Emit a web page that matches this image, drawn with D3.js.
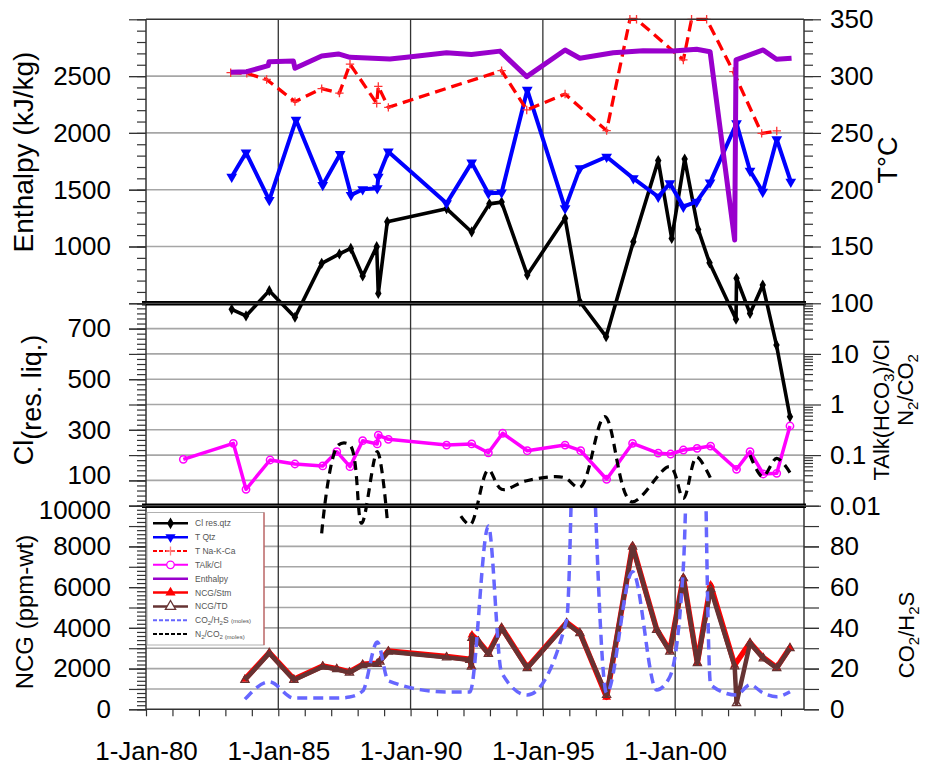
<!DOCTYPE html>
<html><head><meta charset="utf-8">
<script src="https://cdn.jsdelivr.net/npm/d3@7"></script>
<style>body{margin:0;background:#fff}svg{display:block}text{font-family:Arial,"Liberation Sans",sans-serif}</style>
</head><body><svg id="c" width="925" height="774"></svg>
<script>
// ---------- tick labels ----------
const xTickYears=[1980,1985,1990,1995,2000];
const xTickLabels=["1-Jan-80","1-Jan-85","1-Jan-90","1-Jan-95","1-Jan-00"];
const enthalpyTicks=[1000,1500,2000,2500];
const tempTicks=[100,150,200,250,300,350];
const clTicks=[100,300,500,700];
const ratioTicks=[0.01,0.1,1,10];
const ratioTickLabels=["0.01","0.1","1","10"];
const ncgTicks=[0,2000,4000,6000,8000,10000];
const co2h2sTicks=[0,20,40,60,80];

// ---------- series [decimal year, value] ----------
const enthalpy=[[1983.20,2533],[1983.81,2539],[1984.62,2592],[1984.65,2627],[1985.57,2633],[1985.63,2569],[1986.64,2677],[1987.27,2695],[1987.71,2665],[1989.22,2651],[1989.85,2665],[1991.36,2706],[1992.30,2690],[1993.38,2720],[1994.39,2495],[1995.84,2730],[1996.40,2657],[1997.66,2706],[1998.79,2724],[1999.93,2721],[2000.81,2736],[2001.32,2715],[2002.25,1057],[2002.30,2642],[2003.33,2730],[2003.83,2648],[2004.40,2657]];
const tNaKCa=[[1983.20,303],[1983.81,302.5],[1984.56,297],[1985.63,277.5],[1986.64,289],[1987.31,285],[1987.71,310.6],[1988.72,276],[1988.78,291],[1989.16,272.5],[1993.44,304.8],[1994.39,270.2],[1995.84,284.2],[1997.41,252],[1998.29,350],[1998.54,350],[2000.31,314.2],[2000.62,350],[2001.19,350],[2002.20,304],[2003.27,249.6],[2003.84,251.7]];
const tQtz=[[1983.24,211.4],[1983.78,232.6],[1984.66,190.9],[1985.67,261.4],[1986.68,204.1],[1987.34,231.4],[1987.75,195.3],[1988.19,200.3],[1988.74,201.2],[1988.78,211.4],[1989.16,233.5],[1991.36,188],[1992.31,223.8],[1992.94,196.8],[1993.44,197.4],[1994.41,287.8],[1995.84,183.6],[1996.40,218.8],[1997.41,229],[1998.42,210],[1999.36,193.8],[1999.80,205.6],[2000.31,185],[2000.81,189.4],[2001.32,206.2],[2002.32,258.4],[2002.83,216.7],[2003.31,198.2],[2003.84,244.4],[2004.37,207]];
const clResQtz=[[1983.24,776],[1983.78,750],[1984.66,850],[1985.63,745],[1986.64,958],[1987.31,995],[1987.74,1017],[1988.19,908],[1988.72,1024],[1988.78,839],[1989.12,1122],[1991.36,1174],[1992.31,1082],[1992.98,1193],[1993.44,1200],[1994.41,912],[1995.84,1136],[1996.40,806],[1997.39,668],[1998.42,1043],[1999.36,1364],[1999.87,1056],[2000.36,1370],[2000.87,1092],[2001.30,960],[2002.30,737],[2002.32,899],[2002.83,760],[2003.31,872],[2003.83,635],[2004.34,352]];
const talkCl=[[1981.41,0.0826],[1983.30,0.171],[1983.78,0.0211],[1984.69,0.080],[1985.63,0.0667],[1986.68,0.061],[1987.21,0.117],[1987.71,0.059],[1988.19,0.193],[1988.74,0.166],[1988.78,0.249],[1989.16,0.205],[1991.36,0.158],[1992.31,0.166],[1992.94,0.111],[1993.48,0.270],[1994.41,0.122],[1995.84,0.158],[1996.43,0.122],[1997.41,0.0333],[1998.39,0.171],[1999.36,0.109],[1999.83,0.105],[2000.31,0.126],[2000.83,0.136],[2001.34,0.151],[2002.32,0.0524],[2002.83,0.117],[2003.33,0.0423],[2003.84,0.0436],[2004.34,0.376]];
const n2co2=[[1986.64,0.00285],[1987.27,0.158],[1987.71,0.158],[1988.15,0.0045],[1988.74,0.117],[1989.12,0.0052],[1990.5,null],[1991.90,0.0062],[1992.25,0.0042],[1992.94,0.0508],[1993.44,0.0211],[1994.39,0.0312],[1995.77,0.0364],[1996.40,0.0231],[1997.34,0.574],[1998.35,0.012],[1999.80,0.059],[2000.31,0.014],[2000.81,0.0906],[2001.34,0.0348],[2002.0,null],[2002.83,0.1],[2003.31,0.0374],[2003.84,0.0865],[2004.34,0.0449]];
const ncgStm=[[1983.74,1480],[1984.66,2790],[1985.59,1480],[1986.68,2130],[1987.21,2000],[1987.69,1840],[1988.19,2210],[1988.74,2260],[1988.84,2380],[1989.16,2870],[1991.36,2590],[1992.24,2460],[1992.30,2130],[1992.32,3649],[1992.56,3360],[1992.94,2760],[1993.44,4020],[1994.41,2050],[1995.90,4260],[1996.40,3770],[1997.41,590],[1998.39,8030],[1999.30,3930],[1999.80,2870],[2000.31,6470],[2000.84,2300],[2001.34,6105],[2002.25,2176],[2002.83,3280],[2003.33,2540],[2003.84,2050],[2004.34,3030]];
const ncgTD=[[1983.74,1439],[1984.66,2750],[1985.59,1439],[1986.68,2092],[1987.21,1965],[1987.69,1798],[1988.19,2176],[1988.74,2225],[1988.84,2338],[1989.16,2830],[1991.36,2550],[1992.24,2421],[1992.30,2092],[1992.32,3500],[1992.56,3320],[1992.94,2716],[1993.44,3978],[1994.41,2014],[1995.90,4224],[1996.40,3733],[1997.41,700],[1998.39,7986],[1999.30,3895],[1999.80,2829],[2000.31,6434],[2000.84,2259],[2001.34,5900],[2002.25,2100],[2002.32,295],[2002.83,3242],[2003.33,2500],[2003.84,2014],[2004.34,2996]];
const co2h2s=[[1983.74,5],[1984.66,13.5],[1985.59,5.5],[1986.68,5.5],[1987.21,5.5],[1987.69,6],[1988.19,9],[1988.74,33],[1989.16,14],[1991.36,8.5],[1992.24,8.5],[1992.94,90],[1993.44,18],[1994.41,7],[1995.90,44],[1996.40,250],[1997.41,8],[1998.39,67.6],[1999.30,9.5],[1999.80,16],[2000.31,70],[2000.84,330],[2001.34,12],[2002.32,7],[2002.83,12],[2003.33,8],[2003.84,6.2],[2004.34,8.6]];

// ---------- layout ----------
const svg=d3.select("#c");
const X0=146,X1=804;
const P1=[19.3,303.3],P2=[303.3,505.7],P3=[505.7,709.3];
const x=d3.scaleLinear().domain([1980,2004.87]).range([X0,X1]);
const yH=d3.scaleLinear().domain([500,3000]).range([P1[1],P1[0]]);
const yT=d3.scaleLinear().domain([100,350]).range([P1[1],P1[0]]);
const yCl=d3.scaleLinear().domain([0,800]).range([P2[1],P2[0]]);
const yR=d3.scaleLog().domain([0.01,100]).range([P2[1],P2[0]]);
const yN=d3.scaleLinear().domain([0,10000]).range([P3[1],P3[0]]);
const yC=d3.scaleLinear().domain([0,100]).range([P3[1],P3[0]]);

svg.append("defs").append("clipPath").attr("id","clip3").append("rect")
  .attr("x",X0).attr("y",P3[0]).attr("width",X1-X0).attr("height",P3[1]-P3[0]);

// ---------- gridlines ----------
const grid=svg.append("g").attr("stroke","#a6a6a6").attr("stroke-width",1.6);
grid.selectAll(".g1").data([1000,1500,2000,2500]).join("line").attr("x1",X0).attr("x2",X1).attr("y1",d=>yH(d)).attr("y2",d=>yH(d));
grid.selectAll(".g2").data(d3.range(100,800,100)).join("line").attr("x1",X0).attr("x2",X1).attr("y1",d=>yCl(d)).attr("y2",d=>yCl(d));
grid.selectAll(".g3").data(d3.range(1000,10000,1000)).join("line").attr("x1",X0).attr("x2",X1).attr("y1",d=>yN(d)).attr("y2",d=>yN(d));
svg.append("g").attr("stroke","#333").attr("stroke-width",1.3).selectAll("line").data(xTickYears.slice(1)).join("line")
  .attr("x1",d=>x(d)).attr("x2",d=>x(d)).attr("y1",P1[0]).attr("y2",P3[1]);

// ---------- helpers ----------
function path(data,sx,sy,color,width,dash,curve){
  const ln=d3.line().defined(d=>d[1]!=null).x(d=>sx(d[0])).y(d=>sy(d[1]));
  if(curve) ln.curve(curve);
  return svg.append("path").datum(data).attr("d",ln).attr("fill","none").attr("stroke",color)
    .attr("stroke-width",width).attr("stroke-linejoin","round").attr("stroke-dasharray",dash||null);
}
function markers(data,sx,sy,type,size,fill,stroke,sw,rot){
  return svg.append("g").selectAll("path").data(data).join("path")
    .attr("d",d3.symbol(type,size)).attr("transform",d=>`translate(${sx(d[0])},${sy(d[1])})${rot?" rotate(180)":""}`)
    .attr("fill",fill).attr("stroke",stroke||"none").attr("stroke-width",sw||0);
}
const plusSym={draw(c,s){const r=Math.sqrt(s)/2;c.moveTo(-r,0);c.lineTo(r,0);c.moveTo(0,-r);c.lineTo(0,r);}};

// ---------- panel 3 ----------
path(ncgStm,x,yN,"#ff0000",5.5);
markers(ncgStm,x,yN,d3.symbolTriangle,34,"#ff0000");
path(ncgTD,x,yN,"#663333",4.5);
markers(ncgTD,x,yN,d3.symbolTriangle,30,"none","#663333",1.2);
path(co2h2s,x,yC,"#6666ff",3.5,"10,6",d3.curveMonotoneX).attr("clip-path","url(#clip3)");

// ---------- panel 2 ----------
path(talkCl,x,yR,"#ff00ff",3.5);
markers(talkCl,x,yR,d3.symbolCircle,42,"none","#ff00ff",1.5);
path(n2co2,x,yR,"#000",3.2,"9,6",d3.curveCatmullRom.alpha(0.5));
path(clResQtz,x,yCl,"#000",3.6);
markers(clResQtz,x,yCl,d3.symbolDiamond,36,"#000");

// ---------- panel 1 ----------
path(tQtz,x,yT,"#0000ff",4);
markers(tQtz,x,yT,d3.symbolTriangle,50,"#0000ff",null,0,true);
path(tNaKCa,x,yT,"#ff0000",3.3,"11,6");
markers(tNaKCa,x,yT,plusSym,70,"none","#ff3333",1.3);
path(enthalpy,x,yH,"#9900cc",5);

// ---------- frame ----------
const fr=svg.append("g").attr("stroke","#333").attr("stroke-width",1.5).attr("fill","none");
fr.append("line").attr("x1",X0).attr("x2",X1).attr("y1",P1[0]).attr("y2",P1[0]);
fr.append("line").attr("x1",X0).attr("x2",X1).attr("y1",P3[1]).attr("y2",P3[1]);
fr.append("line").attr("x1",X0).attr("x2",X0).attr("y1",P1[0]).attr("y2",P3[1]);
fr.append("line").attr("x1",X1).attr("x2",X1).attr("y1",P1[0]).attr("y2",P3[1]);
[P1[1],P2[1]].forEach(y=>{
  svg.append("line").attr("x1",142).attr("x2",806).attr("y1",y).attr("y2",y).attr("stroke","#000").attr("stroke-width",4.5);
  svg.append("line").attr("x1",142).attr("x2",806).attr("y1",y).attr("y2",y).attr("stroke","#777").attr("stroke-width",0.8);
});

// ---------- axes ----------
function axis(fn,scale,values,size,fmt,pad,tx,fs){
  const ax=fn(scale).tickValues(values).tickSize(size).tickSizeOuter(0).tickPadding(pad||0).tickFormat(fmt||(()=>""));
  const g=svg.append("g").attr("transform",tx).call(ax);
  g.select(".domain").remove();
  g.selectAll("line").attr("stroke","#333").attr("stroke-width",1.2);
  g.selectAll("text").attr("font-size",fs||26).attr("fill","#000").attr("font-family","Arial, 'Liberation Sans', sans-serif");
  return g;
}
const L=`translate(${X0},0)`,R=`translate(${X1},0)`;
// left
axis(d3.axisLeft,yH,d3.range(500,3001,100),9,null,0,L);
axis(d3.axisLeft,yH,d3.range(500,3001,500),17,null,0,L);
axis(d3.axisLeft,yH,enthalpyTicks,17,d=>d,18,L);
axis(d3.axisLeft,yCl,d3.range(0,801,20),9,null,0,L);
axis(d3.axisLeft,yCl,d3.range(0,801,100),17,null,0,L);
axis(d3.axisLeft,yCl,clTicks,17,d=>d,18,L).selectAll("text").filter(d=>d===100).attr("dy","0.12em");
axis(d3.axisLeft,yN,d3.range(0,10001,200),9,null,0,L);
axis(d3.axisLeft,yN,d3.range(0,10001,1000),17,null,0,L);
axis(d3.axisLeft,yN,ncgTicks,17,d=>d,18,L).selectAll("text").filter(d=>d===10000).attr("dy","0.48em");
// right
axis(d3.axisRight,yT,d3.range(100,351,10),9,null,0,R);
axis(d3.axisRight,yT,tempTicks,17,d=>d,9,R);
const logMinor=[];ratioTicks.forEach(d=>{for(let m=2;m<10;m++)logMinor.push(d*m);});
axis(d3.axisRight,yR,logMinor,9,null,0,R);
axis(d3.axisRight,yR,ratioTicks,17,(d,i)=>ratioTickLabels[i],9,R);
axis(d3.axisRight,yC,d3.range(0,101,10),15,null,0,R);
axis(d3.axisRight,yC,co2h2sTicks,15,d=>d,11,R);
// bottom
const B=`translate(0,${P3[1]})`;
axis(d3.axisBottom,x,d3.range(1980,2005,1),7,null,0,B);
axis(d3.axisBottom,x,xTickYears,0,(d,i)=>xTickLabels[i],32,B);

// ---------- axis titles ----------
function vtitle(cx,cy,fs){
  return svg.append("text").attr("transform",`translate(${cx},${cy}) rotate(-90)`).attr("text-anchor","middle").attr("font-size",fs);
}
vtitle(33,152,28).text("Enthalpy (kJ/kg)");
const clt=vtitle(33,400,27);
clt.append("tspan").text("Cl");
clt.append("tspan").attr("dy",8).text("(res. liq.)");
vtitle(33,612,24).text("NCG (ppm-wt)");
vtitle(897,160,27).text("T°C");
const t2=vtitle(889,410,22);
t2.append("tspan").text("TAlk(HCO");
t2.append("tspan").attr("dy",5).attr("font-size",15).text("3");
t2.append("tspan").attr("dy",-5).text(")/Cl");
const t3=vtitle(913,390,22);
t3.append("tspan").text("N");
t3.append("tspan").attr("dy",5).attr("font-size",15).text("2");
t3.append("tspan").attr("dy",-5).text("/CO");
t3.append("tspan").attr("dy",5).attr("font-size",15).text("2");
const t4=vtitle(914,635,22);
t4.append("tspan").text("CO");
t4.append("tspan").attr("dy",5).attr("font-size",15).text("2");
t4.append("tspan").attr("dy",-5).text("/H");
t4.append("tspan").attr("dy",5).attr("font-size",15).text("2");
t4.append("tspan").attr("dy",-5).text("S");

// ---------- legend ----------
const legendItems=[
 {n:"Cl res.qtz",c:"#000",w:2.5,m:"diamond"},
 {n:"T Qtz",c:"#0000ff",w:2.5,m:"down"},
 {n:"T Na-K-Ca",c:"#ff0000",w:2,dash:"4,2",m:"plus"},
 {n:"TAlk/Cl",c:"#ff00ff",w:2,m:"circle"},
 {n:"Enthalpy",c:"#9900cc",w:2.5},
 {n:"NCG/Stm",c:"#ff0000",w:2.5,m:"tri"},
 {n:"NCG/TD",c:"#663333",w:2.5,m:"otri"},
 {n:"CO2/H2S",s:"(moles)",c:"#6666ff",w:2,dash:"4,2"},
 {n:"N2/CO2",s:"(moles)",c:"#000",w:2,dash:"4,2"}
];
const lg=svg.append("g");
lg.append("rect").attr("x",147).attr("y",512.5).attr("width",117).attr("height",132.5).attr("fill","#fff").attr("stroke","#b0b0b0");
lg.append("line").attr("x1",264).attr("x2",264).attr("y1",512.5).attr("y2",645).attr("stroke","#c04040");
legendItems.forEach((it,i)=>{
  const y=523.3+i*13.85;
  lg.append("line").attr("x1",153).attr("x2",188).attr("y1",y).attr("y2",y).attr("stroke",it.c).attr("stroke-width",it.w).attr("stroke-dasharray",it.dash||null);
  let sym=null,fill=it.c,stroke="none",rot="";
  if(it.m==="diamond")sym=d3.symbol(d3.symbolDiamond,40)();
  if(it.m==="down"){sym=d3.symbol(d3.symbolTriangle,45)();rot=" rotate(180)";}
  if(it.m==="tri")sym=d3.symbol(d3.symbolTriangle,45)();
  if(it.m==="otri"){sym=d3.symbol(d3.symbolTriangle,45)();fill="#fff";stroke=it.c;}
  if(it.m==="circle"){sym=d3.symbol(d3.symbolCircle,45)();fill="#fff";stroke=it.c;}
  if(it.m==="plus"){sym=d3.symbol(plusSym,80)();fill="none";stroke="#ff8080";}
  if(sym)lg.append("path").attr("d",sym).attr("transform",`translate(170.5,${y})${rot}`).attr("fill",fill).attr("stroke",stroke).attr("stroke-width",1.3);
  const t=lg.append("text").attr("x",195).attr("y",y+3).attr("font-size",8.5).attr("fill","#555");
  if(it.n==="CO2/H2S"){t.append("tspan").text("CO");t.append("tspan").attr("font-size",6).attr("dy",1.5).text("2");t.append("tspan").attr("dy",-1.5).text("/H");t.append("tspan").attr("font-size",6).attr("dy",1.5).text("2");t.append("tspan").attr("dy",-1.5).text("S ");}
  else if(it.n==="N2/CO2"){t.append("tspan").text("N");t.append("tspan").attr("font-size",6).attr("dy",1.5).text("2");t.append("tspan").attr("dy",-1.5).text("/CO");t.append("tspan").attr("font-size",6).attr("dy",1.5).text("2 ");t.append("tspan").attr("dy",-1.5).text("");}
  else t.text(it.n);
  if(it.s)t.append("tspan").attr("font-size",6).text(it.s);
});
</script></body></html>
